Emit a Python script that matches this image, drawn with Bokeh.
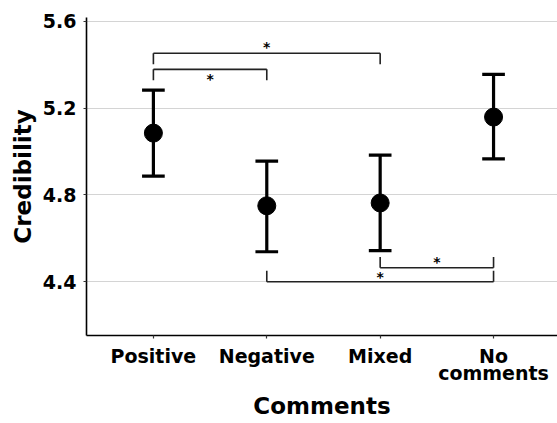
from bokeh.plotting import figure
from bokeh.models import Range1d, FixedTicker, ColumnDataSource, Title
from bokeh.core.properties import value
from bokeh.embed import file_html
from bokeh.resources import INLINE

categories = ["Positive", "Negative", "Mixed", "No\ncomments"]
means = [5.085, 4.75, 4.763, 5.159]
upper = [5.283, 4.956, 4.984, 5.356]
lower = [4.887, 4.538, 4.543, 4.966]
y_ticks = [4.4, 4.8, 5.2, 5.6]
x_title = "Comments"
y_title = "Credibility"

# significance brackets: (from index, to index, level, direction, star x, star y)
br_from = [1, 1, 3, 2]
br_to = [2, 3, 4, 4]
br_level = [5.379, 5.453, 4.464, 4.400]
br_dir = [-1, -1, 1, 1]
star_x = [1.5, 2.0, 3.5, 3.0]
star_y = [5.333, 5.480, 4.492, 4.423]

FONT = "DejaVu Sans"

xs = [i + 1 for i in range(len(categories))]

p = figure(width=557, height=423, output_backend="svg", toolbar_location=None,
           x_range=Range1d(0.41, 4.564), y_range=Range1d(4.152, 5.618),
           min_border_left=86, min_border_right=0, min_border_top=17,
           min_border_bottom=88)
p.outline_line_color = None
p.background_fill_color = "white"
p.border_fill_color = "white"
p.xgrid.grid_line_color = None
p.ygrid.grid_line_color = "#d4d4d4"
p.ygrid.grid_line_width = 1.2

p.xaxis.ticker = FixedTicker(ticks=xs)
p.xaxis.major_label_overrides = {x: c for x, c in zip(xs, categories)}
p.yaxis.ticker = FixedTicker(ticks=y_ticks)
p.yaxis.major_label_overrides = {t: f"{t:.1f}" for t in y_ticks}

for ax in (p.xaxis, p.yaxis):
    ax.axis_line_color = "black"
    ax.axis_line_width = 1.6
    ax.major_tick_line_color = "#333333"
    ax.major_tick_line_width = 1.2
    ax.major_tick_out = 3
    ax.major_tick_in = 0
    ax.minor_tick_line_color = None
    ax.major_label_text_font = FONT
    ax.major_label_text_font_style = "bold"
    ax.major_label_text_font_size = "19px"
    ax.major_label_text_line_height = 0.8
    ax.major_label_text_color = "black"

p.xaxis.major_label_standoff = 6
p.yaxis.major_label_standoff = 7

# axis titles as side-panel titles
p.add_layout(Title(text=x_title, align="center", text_font=FONT, text_font_style="bold",
                   text_font_size="23px", text_color="black", standoff=7), "below")
p.add_layout(Title(text=y_title, align="center", text_font=FONT, text_font_style="bold",
                   text_font_size="23px", text_color="black", standoff=8), "left")

# error bars
src = ColumnDataSource(dict(x=xs, m=means, lo=lower, hi=upper,
                            xl=[x - 0.1 for x in xs], xr=[x + 0.1 for x in xs]))
p.segment(x0="x", y0="lo", x1="x", y1="hi", source=src, line_color="black", line_width=3.2)
p.segment(x0="xl", y0="hi", x1="xr", y1="hi", source=src, line_color="black", line_width=3.2)
p.segment(x0="xl", y0="lo", x1="xr", y1="lo", source=src, line_color="black", line_width=3.2)
p.scatter(x="x", y="m", source=src, size=18, fill_color="black", line_color="black")

# brackets
tick_len = 0.05
bx0, by0, bx1, by1 = [], [], [], []
for a, b, lv, d in zip(br_from, br_to, br_level, br_dir):
    end = lv + d * tick_len
    bx0 += [a, a, b]
    by0 += [end, lv, lv]
    bx1 += [a, b, b]
    by1 += [lv, lv, end]
p.segment(x0=bx0, y0=by0, x1=bx1, y1=by1, line_color="#222222", line_width=1.6)
p.text(x=star_x, y=star_y, text=["*"] * len(star_x), text_font=value(FONT),
       text_font_size="14px", text_font_style="bold", text_align="center",
       text_baseline="middle", text_color="black")

open("out.html", "w").write(file_html(p, INLINE))
